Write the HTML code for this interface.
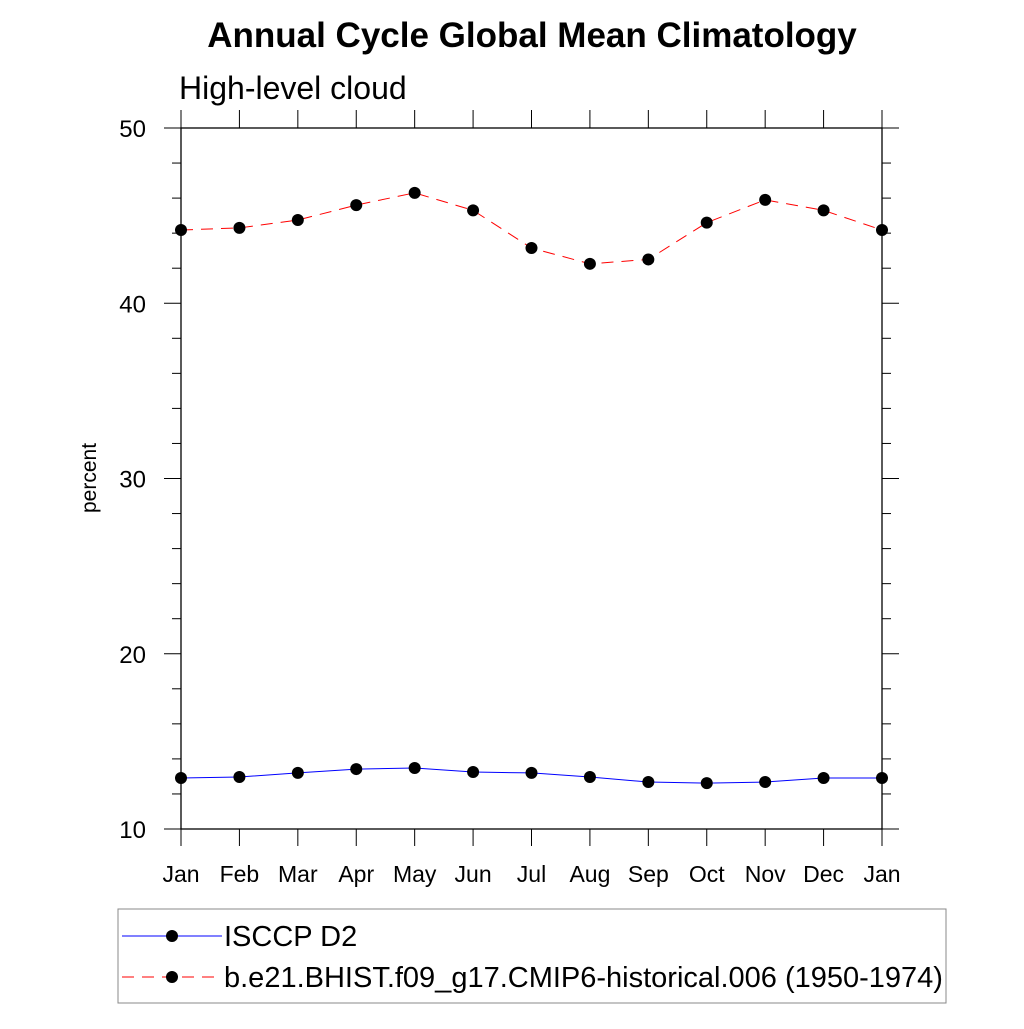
<!DOCTYPE html>
<html><head><meta charset="utf-8"><style>
body{margin:0;background:#fff;}
svg text{font-family:"Liberation Sans",sans-serif;}
</style></head><body>
<svg id="chart" width="1024" height="1024" xmlns="http://www.w3.org/2000/svg">
<text x="532" y="47" text-anchor="middle" font-size="35" font-weight="bold">Annual Cycle Global Mean Climatology</text>
<text x="179" y="99" font-size="32">High-level cloud</text>
<text transform="translate(96,478) rotate(-90)" text-anchor="middle" font-size="21">percent</text>
<g id="axes"></g>
<g id="series"></g>
<g>
<rect x="118" y="909" width="828" height="94" fill="#fff" stroke="#888" stroke-width="1"/>
<g>
<line x1="122" y1="936" x2="222" y2="936" stroke="#0000ff" stroke-width="1"/>
<circle cx="172" cy="936" r="6" fill="#000"/>
<text x="224" y="946" font-size="29">ISCCP D2</text></g>
<g>
<line x1="122" y1="977" x2="222" y2="977" stroke="#ff0000" stroke-width="1" stroke-dasharray="12,8"/>
<circle cx="172" cy="977" r="6" fill="#000"/>
<text x="224" y="987" font-size="29">b.e21.BHIST.f09_g17.CMIP6-historical.006 (1950-1974)</text></g>
</g>
</svg>
<script>
const months=["Jan","Feb","Mar","Apr","May","Jun","Jul","Aug","Sep","Oct","Nov","Dec","Jan"];
const isccp=[12.91,12.97,13.2,13.42,13.48,13.25,13.2,12.97,12.68,12.62,12.68,12.91,12.91];
const model=[44.18,44.3,44.75,45.6,46.3,45.3,43.15,42.25,42.5,44.6,45.9,45.3,44.18];
const yTicks=[10,20,30,40,50];
const NS="http://www.w3.org/2000/svg";
const X0=181,X1=882,Y0=829,Y1=128,YMIN=10,YMAX=50;
function xs(i){return X0+(X1-X0)*i/(months.length-1);}
function ys(v){return Y0-(v-YMIN)/(YMAX-YMIN)*(Y0-Y1);}
function mk(tag,a,parent){const e=document.createElementNS(NS,tag);for(const k in a)e.setAttribute(k,a[k]);parent.appendChild(e);return e;}
const ax=document.getElementById('axes');
const fr=mk('rect',{x:X0,y:Y1,width:X1-X0,height:Y0-Y1,fill:'none',stroke:'#000','stroke-width':1.3},ax);


for(let v=YMIN;v<=YMAX;v+=2){
  const maj=(v%10===0);const L=maj?17:9;const y=ys(v);
  const t1=mk('line',{x1:X0-L,y1:y,x2:X0,y2:y,stroke:'#000','stroke-width':1},ax);
  
  
  const t2=mk('line',{x1:X1,y1:y,x2:X1+L,y2:y,stroke:'#000','stroke-width':1},ax);
  
  
}
yTicks.forEach(v=>{
  const t=mk('text',{x:146,y:ys(v)+9,'text-anchor':'end','font-size':24},ax);t.textContent=v;
  
  
});
months.forEach((m,i)=>{
  const x=xs(i);
  const a=mk('line',{x1:x,y1:Y1-18,x2:x,y2:Y1,stroke:'#000','stroke-width':1},ax);
  
  
  const b=mk('line',{x1:x,y1:Y0,x2:x,y2:Y0+17,stroke:'#000','stroke-width':1},ax);
  
  
  const t=mk('text',{x:x,y:882,'text-anchor':'middle','font-size':23},ax);t.textContent=m;
  
  
});
const sg=document.getElementById('series');
function series(vals,color,dash,name){
  const pts=vals.map((v,i)=>xs(i)+','+ys(v)).join(' ');
  const pl=mk('polyline',{points:pts,fill:'none',stroke:color,'stroke-width':1,'stroke-dasharray':dash},sg);
  
  
  vals.forEach((v,i)=>{
    const c=mk('circle',{cx:xs(i),cy:ys(v),r:6,fill:'#000'},sg);
    
    
  });
}
series(isccp,'#0000ff','none','isccp');
series(model,'#ff0000','12,8','model');
</script>
</body></html>
